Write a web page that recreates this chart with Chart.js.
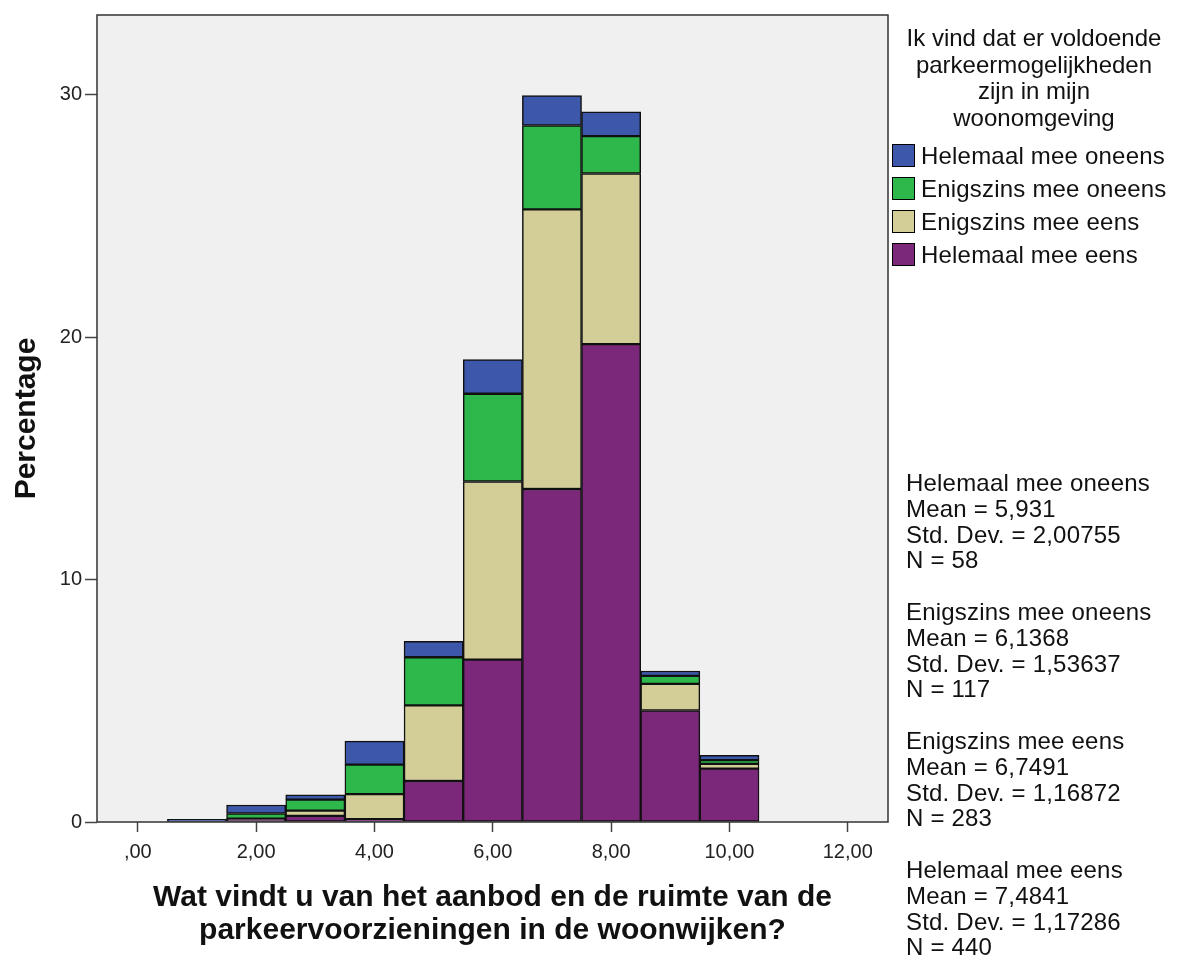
<!DOCTYPE html>
<html>
<head>
<meta charset="utf-8">
<script src="https://cdn.jsdelivr.net/npm/chart.js@4"></script>
<style>
  body { margin: 0; background: #fff; font-family: "Liberation Sans", Arial, sans-serif; }
  #wrap { position: relative; width: 1185px; height: 961px; }
  #legendTitle { position: absolute; left: 884px; top: 25px; width: 300px; text-align: center;
    font-size: 24px; line-height: 26.5px; color: #111; }
  .item { position: absolute; left: 892px; height: 24px; font-size: 24px; line-height: 24px; color: #111; letter-spacing: 0.2px; }
  .item span.box { position: absolute; left: 0; top: 0; width: 21px; height: 21px; border: 1px solid #000; }
  .item span.lbl { position: absolute; left: 29px; top: 0; white-space: nowrap; }
  #stats { position: absolute; left: 906px; top: 470px; font-size: 24px; line-height: 25.8px; color: #111; white-space: pre; letter-spacing: 0.2px; }
</style>
</head>
<body>
<div id="wrap">
  <canvas id="chart" width="1185" height="961"></canvas>
  <div id="legendTitle">Ik vind dat er voldoende<br>parkeermogelijkheden<br>zijn in mijn<br>woonomgeving</div>
  <div id="legendItems"></div>
  <div id="stats"></div>
</div>
<script>
// histogram bins (score values)
const bins = [1, 2, 3, 4, 5, 6, 7, 8, 9, 10]

// percentage of all respondents per bin, per answer
const helemaalOneens = [0.11, 0.35, 0.2, 0.97, 0.66, 1.41, 1.23, 1.0, 0.2, 0.2]
const enigszinsOneens = [0, 0.21, 0.45, 1.22, 1.99, 3.62, 3.46, 1.54, 0.33, 0.15]
const enigszinsEens = [0, 0, 0.22, 1.03, 3.12, 7.35, 11.54, 7.04, 1.1, 0.2]
const helemaalEens = [0, 0.14, 0.25, 0.12, 1.69, 6.70, 13.74, 19.72, 4.6, 2.2]

const xTicks = [0, 2, 4, 6, 8, 10, 12]
const yTicks = [0, 10, 20, 30]

const legendLabels = ['Helemaal mee oneens', 'Enigszins mee oneens', 'Enigszins mee eens', 'Helemaal mee eens']
const legendColors = ['#3d57ab', '#2eb74a', '#d3ce98', '#7b287b']

const statLines = [
  ['Helemaal mee oneens', 'Mean = 5,931', 'Std. Dev. = 2,00755', 'N = 58'],
  ['Enigszins mee oneens', 'Mean = 6,1368', 'Std. Dev. = 1,53637', 'N = 117'],
  ['Enigszins mee eens', 'Mean = 6,7491', 'Std. Dev. = 1,16872', 'N = 283'],
  ['Helemaal mee eens', 'Mean = 7,4841', 'Std. Dev. = 1,17286', 'N = 440']
]

const toPoints = arr => bins.map((b, i) => ({ x: b, y: arr[i] }))

// bottom of the stack first
const series = [
  { label: legendLabels[3], data: helemaalEens, color: legendColors[3] },
  { label: legendLabels[2], data: enigszinsEens, color: legendColors[2] },
  { label: legendLabels[1], data: enigszinsOneens, color: legendColors[1] },
  { label: legendLabels[0], data: helemaalOneens, color: legendColors[0] }
]

const plotFrame = {
  id: 'plotFrame',
  beforeDraw(chart) {
    const { ctx, chartArea: a } = chart
    ctx.save()
    ctx.fillStyle = '#f0f0f0'
    ctx.fillRect(a.left, a.top, a.right - a.left, a.bottom - a.top)
    ctx.restore()
  },
  afterDraw(chart) {
    const { ctx, chartArea: a } = chart
    ctx.save()
    ctx.strokeStyle = '#333'
    ctx.lineWidth = 1.5
    ctx.strokeRect(a.left, a.top, a.right - a.left, a.bottom - a.top)
    ctx.restore()
  }
}

new Chart(document.getElementById('chart'), {
  type: 'bar',
  data: {
    datasets: series.map(s => ({
      label: s.label,
      data: toPoints(s.data),
      backgroundColor: s.color,
      borderColor: '#111',
      borderWidth: 1.5,
      borderSkipped: false,
      barPercentage: 1,
      categoryPercentage: 1
    }))
  },
  options: {
    responsive: false,
    devicePixelRatio: 1,
    animation: false,
    layout: { padding: { left: 0, top: 11, right: 297, bottom: 0 } },
    plugins: {
      legend: { display: false },
      tooltip: { enabled: false }
    },
    scales: {
      x: {
        type: 'linear',
        stacked: true,
        offset: false,
        min: -0.69,
        max: 12.68,
        afterBuildTicks: s => { s.ticks = xTicks.map(v => ({ value: v })) },
        afterFit: s => { s.height = 139 },
        grid: { offset: false, drawOnChartArea: false, color: '#444', tickLength: 10, tickWidth: 1.5 },
        border: { display: false },
        ticks: {
          padding: 8,
          color: '#222',
          font: { family: 'Liberation Sans', size: 20 },
          callback: v => (v === 0 ? '' : v) + ',00'
        },
        title: {
          display: true,
          text: ['Wat vindt u van het aanbod en de ruimte van de', 'parkeervoorzieningen in de woonwijken?'],
          color: '#111',
          font: { family: 'Liberation Sans', size: 30, weight: 'bold', lineHeight: 1.1 },
          padding: { top: 0, bottom: 14 }
        }
      },
      y: {
        stacked: true,
        min: 0,
        max: 33.3,
        afterBuildTicks: s => { s.ticks = yTicks.map(v => ({ value: v })) },
        afterFit: s => { s.width = 97 },
        grid: { drawOnChartArea: false, color: '#444', tickLength: 12, tickWidth: 1.5 },
        border: { display: false },
        ticks: {
          padding: 3,
          color: '#222',
          font: { family: 'Liberation Sans', size: 20 }
        },
        title: {
          display: true,
          text: 'Percentage',
          color: '#111',
          font: { family: 'Liberation Sans', size: 30, weight: 'bold', lineHeight: 1.2 },
          padding: { top: 9, bottom: 0 }
        }
      }
    }
  },
  plugins: [plotFrame]
})

// legend panel on the right
const itemsEl = document.getElementById('legendItems')
legendLabels.forEach((lbl, i) => {
  const d = document.createElement('div')
  d.className = 'item'
  d.style.top = (144 + i * 33) + 'px'
  d.innerHTML = '<span class="box" style="background:' + legendColors[i] + '"></span><span class="lbl">' + lbl + '</span>'
  itemsEl.appendChild(d)
})
document.getElementById('stats').textContent = statLines.map(g => g.join('\n')).join('\n\n')
</script>
</body>
</html>
